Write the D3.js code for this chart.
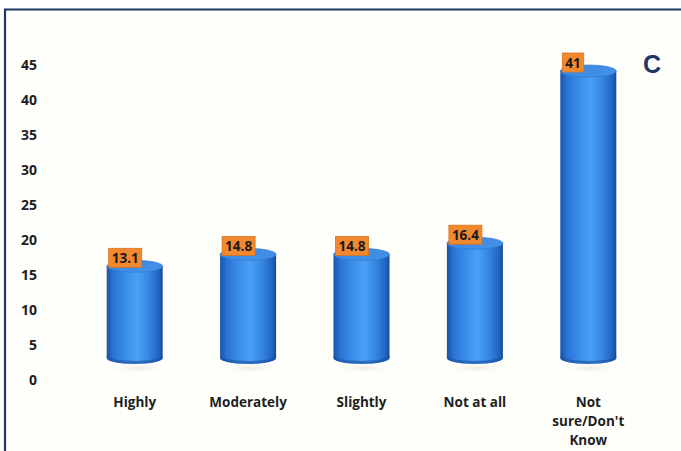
<!DOCTYPE html>
<html>
<head>
<meta charset="utf-8">
<script src="https://cdn.jsdelivr.net/npm/d3@7/dist/d3.min.js"></script>
<style>
  html, body { margin: 0; padding: 0; background: #ffffff; }
  svg { display: block; }
</style>
</head>
<body>
<svg id="chart" width="681" height="451"></svg>
<script>
// Survey responses (percent)
const categories = ["Highly", "Moderately", "Slightly", "Not at all", "Not sure/Don't Know"];
const values = [13.1, 14.8, 14.8, 16.4, 41];
const yTicks = [0, 5, 10, 15, 20, 25, 30, 35, 40, 45];
const panelLetter = "C";

const W = 681, H = 451;
const FONT = "'Open Sans', 'Liberation Sans', Arial, sans-serif";
const svg = d3.select("#chart");
const defs = svg.append("defs");

// panel background and frame
svg.append("rect").attr("x", 0).attr("y", 0).attr("width", W).attr("height", H).attr("fill", "#ffffff");
svg.append("rect").attr("x", 5).attr("y", 9).attr("width", W).attr("height", H)
  .attr("fill", "#fefefb");
svg.append("path").attr("d", `M5,${H} V9.5 H${W}`)
  .attr("fill", "none").attr("stroke", "#1f3663").attr("stroke-width", 2.2);

// scales
const y = d3.scaleLinear().domain([0, 45]).range([380, 65]);
const depth = 22; // floor set back in 3D view
const x = d3.scaleBand().domain(categories).range([78, 645]).paddingInner(0.5).paddingOuter(0.25);
const bw = 56, ry = 6;

// gradients for the cylinder sides and tops
const sideGrad = defs.append("linearGradient").attr("id", "side").attr("x1", 0).attr("x2", 1).attr("y1", 0).attr("y2", 0);
[[0, "#1a53a8"], [0.12, "#2a74d6"], [0.4, "#3f94ee"], [0.55, "#4aa0f4"], [0.75, "#3586e2"], [0.93, "#2064c0"], [1, "#174a99"]]
  .forEach(([o, c]) => sideGrad.append("stop").attr("offset", o).attr("stop-color", c));
const topGrad = defs.append("linearGradient").attr("id", "topFill").attr("x1", 0).attr("x2", 1).attr("y1", 0).attr("y2", 1);
[[0, "#3a88e0"], [1, "#4392ea"]].forEach(([o, c]) => topGrad.append("stop").attr("offset", o).attr("stop-color", c));
const shadowGrad = defs.append("radialGradient").attr("id", "floorShadow");
[[0, "rgba(210,200,170,0.35)"], [1, "rgba(255,255,255,0)"]]
  .forEach(([o, c]) => shadowGrad.append("stop").attr("offset", o).attr("stop-color", c));

// y axis labels
const yAxis = d3.axisLeft(y).tickValues(yTicks).tickSize(0).tickPadding(0);
const gy = svg.append("g").attr("transform", "translate(37,0)").call(yAxis);
gy.select(".domain").remove();
gy.selectAll("text")
  .attr("font-family", FONT)
  .attr("font-size", 14).attr("font-weight", "bold").attr("fill", "#1e1e1e");

// cylinders
const bars = svg.append("g").selectAll("g").data(values).join("g")
  .attr("transform", (d, i) => `translate(${x(categories[i]) + x.bandwidth() / 2},0)`);

bars.append("ellipse")
  .attr("cx", 2).attr("cy", y(0) - depth + 10).attr("rx", bw / 2 + 6).attr("ry", 6)
  .attr("fill", "url(#floorShadow)");

bars.append("path")
  .attr("d", d => {
    const yb = y(0) - depth, yt = y(d) - depth, r = bw / 2;
    return `M${-r},${yt} V${yb} A${r},${ry} 0 0,0 ${r},${yb} V${yt} Z`;
  })
  .attr("fill", "url(#side)");

// darker rim along the base
bars.append("path")
  .attr("d", () => {
    const yb = y(0) - depth, r = bw / 2;
    return `M${-r},${yb - 3} A${r},${ry} 0 0,0 ${r},${yb - 3} V${yb} A${r},${ry} 0 0,1 ${-r},${yb} Z`;
  })
  .attr("fill", "#1b4f9e").attr("opacity", 0.6);

bars.append("ellipse")
  .attr("cx", 0).attr("cy", d => y(d) - depth).attr("rx", bw / 2).attr("ry", ry)
  .attr("fill", "url(#topFill)").attr("stroke", "#2d74cf").attr("stroke-width", 0.6);

// value labels
const labels = bars.append("g")
  .attr("transform", d => `translate(${-bw / 2 + 2},${y(d) - depth + 1})`);
labels.append("text")
  .attr("x", 3).attr("y", -4)
  .attr("font-family", FONT)
  .attr("font-size", 13.5).attr("font-weight", "bold").attr("fill", "#1a1a1a")
  .text(d => d);
labels.each(function () {
  const g = d3.select(this);
  const t = g.select("text");
  const w = t.node().getComputedTextLength();
  g.insert("rect", "text")
    .attr("x", 0).attr("y", -19).attr("width", w + 6).attr("height", 19)
    .attr("fill", "#f2892e").attr("stroke", "#d9741c").attr("stroke-width", 0.8);
});

// category labels, wrapped within the band
const maxW = 84;
const cat = svg.append("g").selectAll("text").data(categories).join("text")
  .attr("x", d => x(d) + x.bandwidth() / 2)
  .attr("y", 407)
  .attr("text-anchor", "middle")
  .attr("font-family", FONT)
  .attr("font-size", 13.5).attr("font-weight", "bold").attr("fill", "#1e1e1e");
cat.each(function (d) {
  const el = d3.select(this);
  const words = d.split(" ");
  const lines = [];
  let line = [];
  const probe = el.append("tspan");
  words.forEach(wd => {
    const trial = line.concat(wd).join(" ");
    probe.text(trial);
    if (line.length && probe.node().getComputedTextLength() > maxW) {
      lines.push(line.join(" "));
      line = [wd];
    } else {
      line.push(wd);
    }
  });
  lines.push(line.join(" "));
  probe.remove();
  lines.forEach((l, i) => {
    el.append("tspan").attr("x", el.attr("x")).attr("dy", i === 0 ? 0 : 19).text(l);
  });
});

// panel letter
svg.append("text")
  .attr("x", 652).attr("y", 73)
  .attr("text-anchor", "middle")
  .attr("font-family", "'Liberation Sans', Arial, sans-serif")
  .attr("font-size", 25).attr("font-weight", "bold").attr("fill", "#1f3864")
  .text(panelLetter);
</script>
</body>
</html>
